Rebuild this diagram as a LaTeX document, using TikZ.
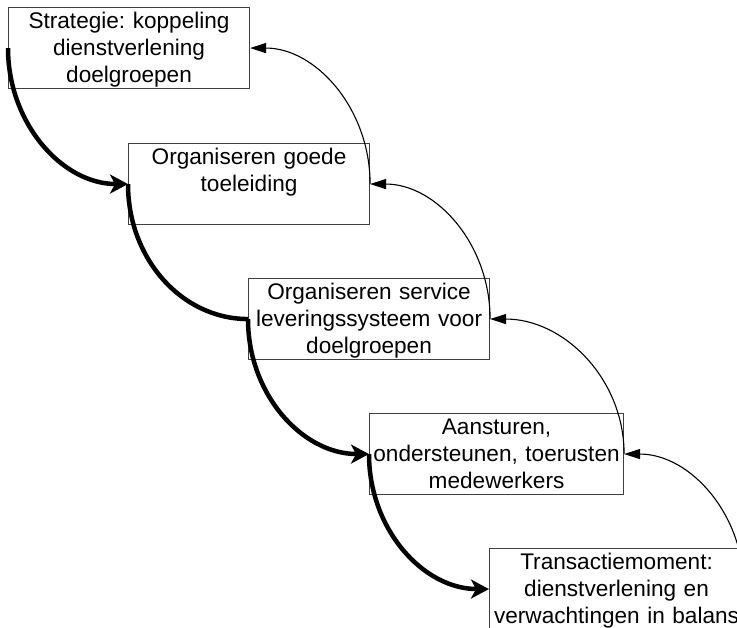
\documentclass[tikz,border=0pt]{standalone}
\usepackage{fontspec}
\setmainfont{Liberation Sans}
\usetikzlibrary{arrows.meta}

\tikzset{
  stage/.style={draw=black!75, line width=1.1pt, rectangle, anchor=north west,
    inner xsep=2pt, inner ysep=0pt, align=center,
    text height=20.5pt, text depth=60.5pt,
    font=\fontsize{22.6pt}{27pt}\selectfont\frenchspacing},
  narrow/.style={stage, text width=237pt},
  wide/.style={stage, text width=250pt},
  down/.style={line width=4.5pt},
  downtip/.style={down, -{Stealth[length=18pt, width=19pt, inset=5pt]}},
  up/.style={line width=1.1pt, -{Triangle[length=16pt, width=10pt]}}
}

\begin{document}
\begin{tikzpicture}[x=1pt, y=-1pt]
  \useasboundingbox (0,0) rectangle (737,628);
  \clip (0,0) rectangle (737,628);

  % the five stages, stepping down to the right
  \node[narrow] (strat) at (8,7)     {Strategie: koppeling\\dienstverlening\\doelgroepen};
  \node[narrow] (toel)  at (128,143) {Organiseren goede\\toeleiding};
  \node[narrow] (serv)  at (248,278) {Organiseren service\\leveringssysteem voor\\doelgroepen};
  \node[wide]   (mede)  at (369,413) {Aansturen,\\ondersteunen, toerusten\\medewerkers};
  \node[wide]   (trans) at (489,548) {Transactiemoment:\\dienstverlening en\\verwachtingen in balans};

  % heavy cascade along the left edges
  \draw[downtip] (strat.west) .. controls +(0,75) and +(-66,0) .. (toel.west);
  \draw[down]    (toel.west)  .. controls +(0,75) and +(-66,0) .. (serv.west);
  \draw[downtip] (serv.west)  .. controls +(0,75) and +(-67,0) .. (mede.west);
  \draw[downtip] (mede.west)  .. controls +(0,75) and +(-66,0) .. (trans.west);

  % light feedback arcs along the right edges
  \draw[up] (toel.east)  .. controls +(0,-75) and +(66,0) .. (strat.east);
  \draw[up] (serv.east)  .. controls +(0,-75) and +(66,0) .. (toel.east);
  \draw[up] (mede.east)  .. controls +(0,-75) and +(74,0) .. (serv.east);
  \draw[up] (trans.east) .. controls +(0,-75) and +(66,0) .. (mede.east);
\end{tikzpicture}
\end{document}
